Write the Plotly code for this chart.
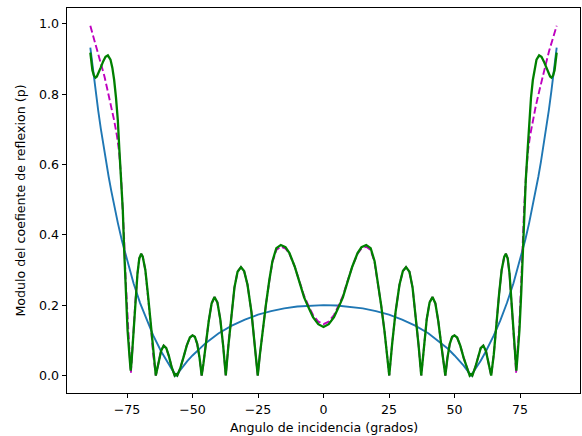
import plotly.graph_objects as go

# ---------------- data ----------------
# Blue: single-interface reflection modulus
blue_angles_right = [0, 5, 10, 15, 20, 25, 30, 35, 40, 45, 47.5, 50, 52, 53.5, 55, 56.3, 58, 60,
                     62, 65, 67.5, 70, 72.5, 75, 77, 78.5, 80, 81, 82, 83, 84, 85, 86, 87, 88, 89]
blue_values_right = [0.200, 0.199, 0.196, 0.191, 0.183, 0.173, 0.159, 0.142, 0.120, 0.092, 0.076,
                     0.057, 0.041, 0.028, 0.013, 0.0, 0.019, 0.042, 0.069, 0.114, 0.157, 0.206,
                     0.262, 0.327, 0.385, 0.434, 0.487, 0.525, 0.565, 0.608, 0.654, 0.702,
                     0.754, 0.810, 0.869, 0.932]
blue_angles_left = [-a for a in blue_angles_right[::-1]]
blue_values_left = blue_values_right[::-1]

# Green: full multilayer reflection modulus
green_angles_right = [0, 2, 4, 6, 7.4, 9, 11, 13, 14.5, 16.3, 18, 19.5, 20.7, 22, 23.3, 24.3, 25.1,
                      26.2, 27.5, 29, 30.3, 31.5, 32.8, 34, 35.2, 36.3, 37.3,
                      38.3, 39.4, 40.5, 41.6, 42.7, 43.8, 44.9, 45.8, 46.5,
                      47.3, 48.2, 49.1, 50.0, 51.0, 52.2, 53.5, 54.7, 55.8, 56.3, 56.8,
                      58, 59, 60, 61, 62, 63, 64,
                      65, 66, 67, 68, 69, 69.6, 70.3, 71, 71.8, 72.6, 73.3, 73.6,
                      74.0, 74.8, 75.5, 76.1, 76.6, 77.2, 77.9, 78.5, 79.2, 79.9, 80.6, 81.3,
                      82.3, 83.2, 84.1, 85.0, 85.8, 86.5, 87.0, 87.6, 88.2, 88.7, 89.0]
green_values_right = [0.138, 0.146, 0.166, 0.198, 0.222, 0.262, 0.310, 0.348, 0.365, 0.371, 0.362,
                      0.325, 0.270, 0.200, 0.125, 0.058, 0.0,
                      0.090, 0.180, 0.258, 0.297, 0.308, 0.295, 0.250, 0.170, 0.085, 0.0,
                      0.085, 0.160, 0.208, 0.223, 0.205, 0.155, 0.090, 0.035, 0.0,
                      0.050, 0.090, 0.110, 0.114, 0.108, 0.085, 0.050, 0.020, 0.0, 0.004, 0.0,
                      0.025, 0.055, 0.078, 0.085, 0.070, 0.035, 0.0,
                      0.060, 0.150, 0.230, 0.300, 0.338, 0.346, 0.333, 0.290, 0.210, 0.110, 0.035, 0.014,
                      0.050, 0.130, 0.240, 0.360, 0.470, 0.555, 0.640, 0.725, 0.790, 0.840, 0.875, 0.898,
                      0.910, 0.906, 0.893, 0.876, 0.860, 0.850, 0.847, 0.852, 0.868, 0.893, 0.918]
green_angles_left = [-a for a in green_angles_right[::-1]]
green_values_left = green_values_right[::-1]

# Magenta dashed: approximate model
mag_angles_right = [0, 2, 4, 6, 7.4, 9, 11, 13, 14.5, 16.3, 18, 19.5, 20.7, 22, 23.3, 24.3, 25.1,
                    26.2, 27.5, 29, 30.3, 31.5, 32.8, 34, 35.2, 36.3, 37.3,
                    38.3, 39.4, 40.5, 41.6, 42.7, 43.8, 44.9, 45.8, 46.5,
                    47.3, 48.2, 49.1, 50.0, 51.0, 52.2, 53.5, 54.7, 55.8, 56.3, 56.8,
                    58, 59, 60, 61, 62, 63, 64,
                    65, 66, 67, 68, 69, 69.6, 70.3, 71, 71.8, 72.6, 73.3, 73.5,
                    74.0, 74.8, 75.5, 76.1, 76.6, 77.3, 78.0, 78.8, 79.9, 81.0, 82.4, 83.6,
                    85.0, 86.2, 87.5, 88.3, 89.0]
mag_values_right = [0.146, 0.153, 0.172, 0.203, 0.226, 0.264, 0.310, 0.346, 0.361, 0.366, 0.357,
                    0.322, 0.268, 0.200, 0.125, 0.058, 0.0,
                    0.090, 0.180, 0.258, 0.297, 0.308, 0.295, 0.250, 0.170, 0.085, 0.0,
                    0.085, 0.160, 0.208, 0.223, 0.205, 0.155, 0.090, 0.035, 0.0,
                    0.050, 0.090, 0.110, 0.114, 0.108, 0.085, 0.050, 0.020, 0.0, 0.004, 0.0,
                    0.025, 0.055, 0.078, 0.085, 0.070, 0.035, 0.0,
                    0.060, 0.150, 0.230, 0.300, 0.338, 0.346, 0.333, 0.290, 0.210, 0.110, 0.035, 0.008,
                    0.060, 0.150, 0.270, 0.390, 0.480, 0.570, 0.635, 0.680, 0.725, 0.765, 0.810, 0.850,
                    0.890, 0.925, 0.958, 0.975, 0.994]
mag_angles_left = [-a for a in mag_angles_right[::-1]]
mag_values_left = mag_values_right[::-1]

x_ticks = [-75, -50, -25, 0, 25, 50, 75]
y_ticks = [0.0, 0.2, 0.4, 0.6, 0.8, 1.0]
y_tick_labels = ["0.0", "0.2", "0.4", "0.6", "0.8", "1.0"]

x_title = "Angulo de incidencia (grados)"
y_title = "Modulo del coefiente de reflexion (p)"

# ---------------- figure ----------------
def join(left_a, left_v, right_a, right_v):
    return left_a[:-1] + right_a, left_v[:-1] + right_v

bx, by = join(blue_angles_left, blue_values_left, blue_angles_right, blue_values_right)
gx, gy = join(green_angles_left, green_values_left, green_angles_right, green_values_right)
mx, my = join(mag_angles_left, mag_values_left, mag_angles_right, mag_values_right)

fig = go.Figure()
fig.add_trace(go.Scatter(x=bx, y=by, mode="lines",
                         line=dict(color="#1f77b4", width=1.9)))
fig.add_trace(go.Scatter(x=mx, y=my, mode="lines",
                         line=dict(color="#bf00bf", width=1.9, dash="7px,3px")))
fig.add_trace(go.Scatter(x=gx, y=gy, mode="lines",
                         line=dict(color="#008000", width=2.3)))

font_family = "DejaVu Sans"
fig.update_layout(
    width=582, height=436,
    margin=dict(l=67, r=2, t=8, b=43),
    plot_bgcolor="white", paper_bgcolor="white",
    showlegend=False,
    font=dict(family=font_family, size=12.6, color="black"),
    xaxis=dict(range=[-97.9, 97.9], tickvals=x_ticks, ticks="outside", ticklen=4.4,
               tickwidth=1, tickcolor="black", showline=True, mirror=True,
               linecolor="black", linewidth=1, showgrid=False, zeroline=False,
               automargin=False),
    yaxis=dict(range=[-0.0497, 1.0447], tickvals=y_ticks, ticktext=y_tick_labels,
               ticks="outside", ticklen=4.4, tickwidth=1, tickcolor="black",
               showline=True, mirror=True, linecolor="black", linewidth=1,
               showgrid=False, zeroline=False, automargin=False),
    annotations=[
        dict(text=x_title, xref="paper", yref="paper", x=0.5, y=0, xanchor="center",
             yanchor="middle", yshift=-34, showarrow=False,
             font=dict(family=font_family, size=12.6, color="black")),
        dict(text=y_title, xref="paper", yref="paper", x=0, y=0.5, xanchor="center",
             yanchor="middle", xshift=-47, textangle=-90, showarrow=False,
             font=dict(family=font_family, size=12.6, color="black")),
    ],
)

fig.write_html(
    "out.html",
    config={"displayModeBar": False},
    post_script="document.body.style.margin='0';document.body.style.overflow='hidden';",
)
